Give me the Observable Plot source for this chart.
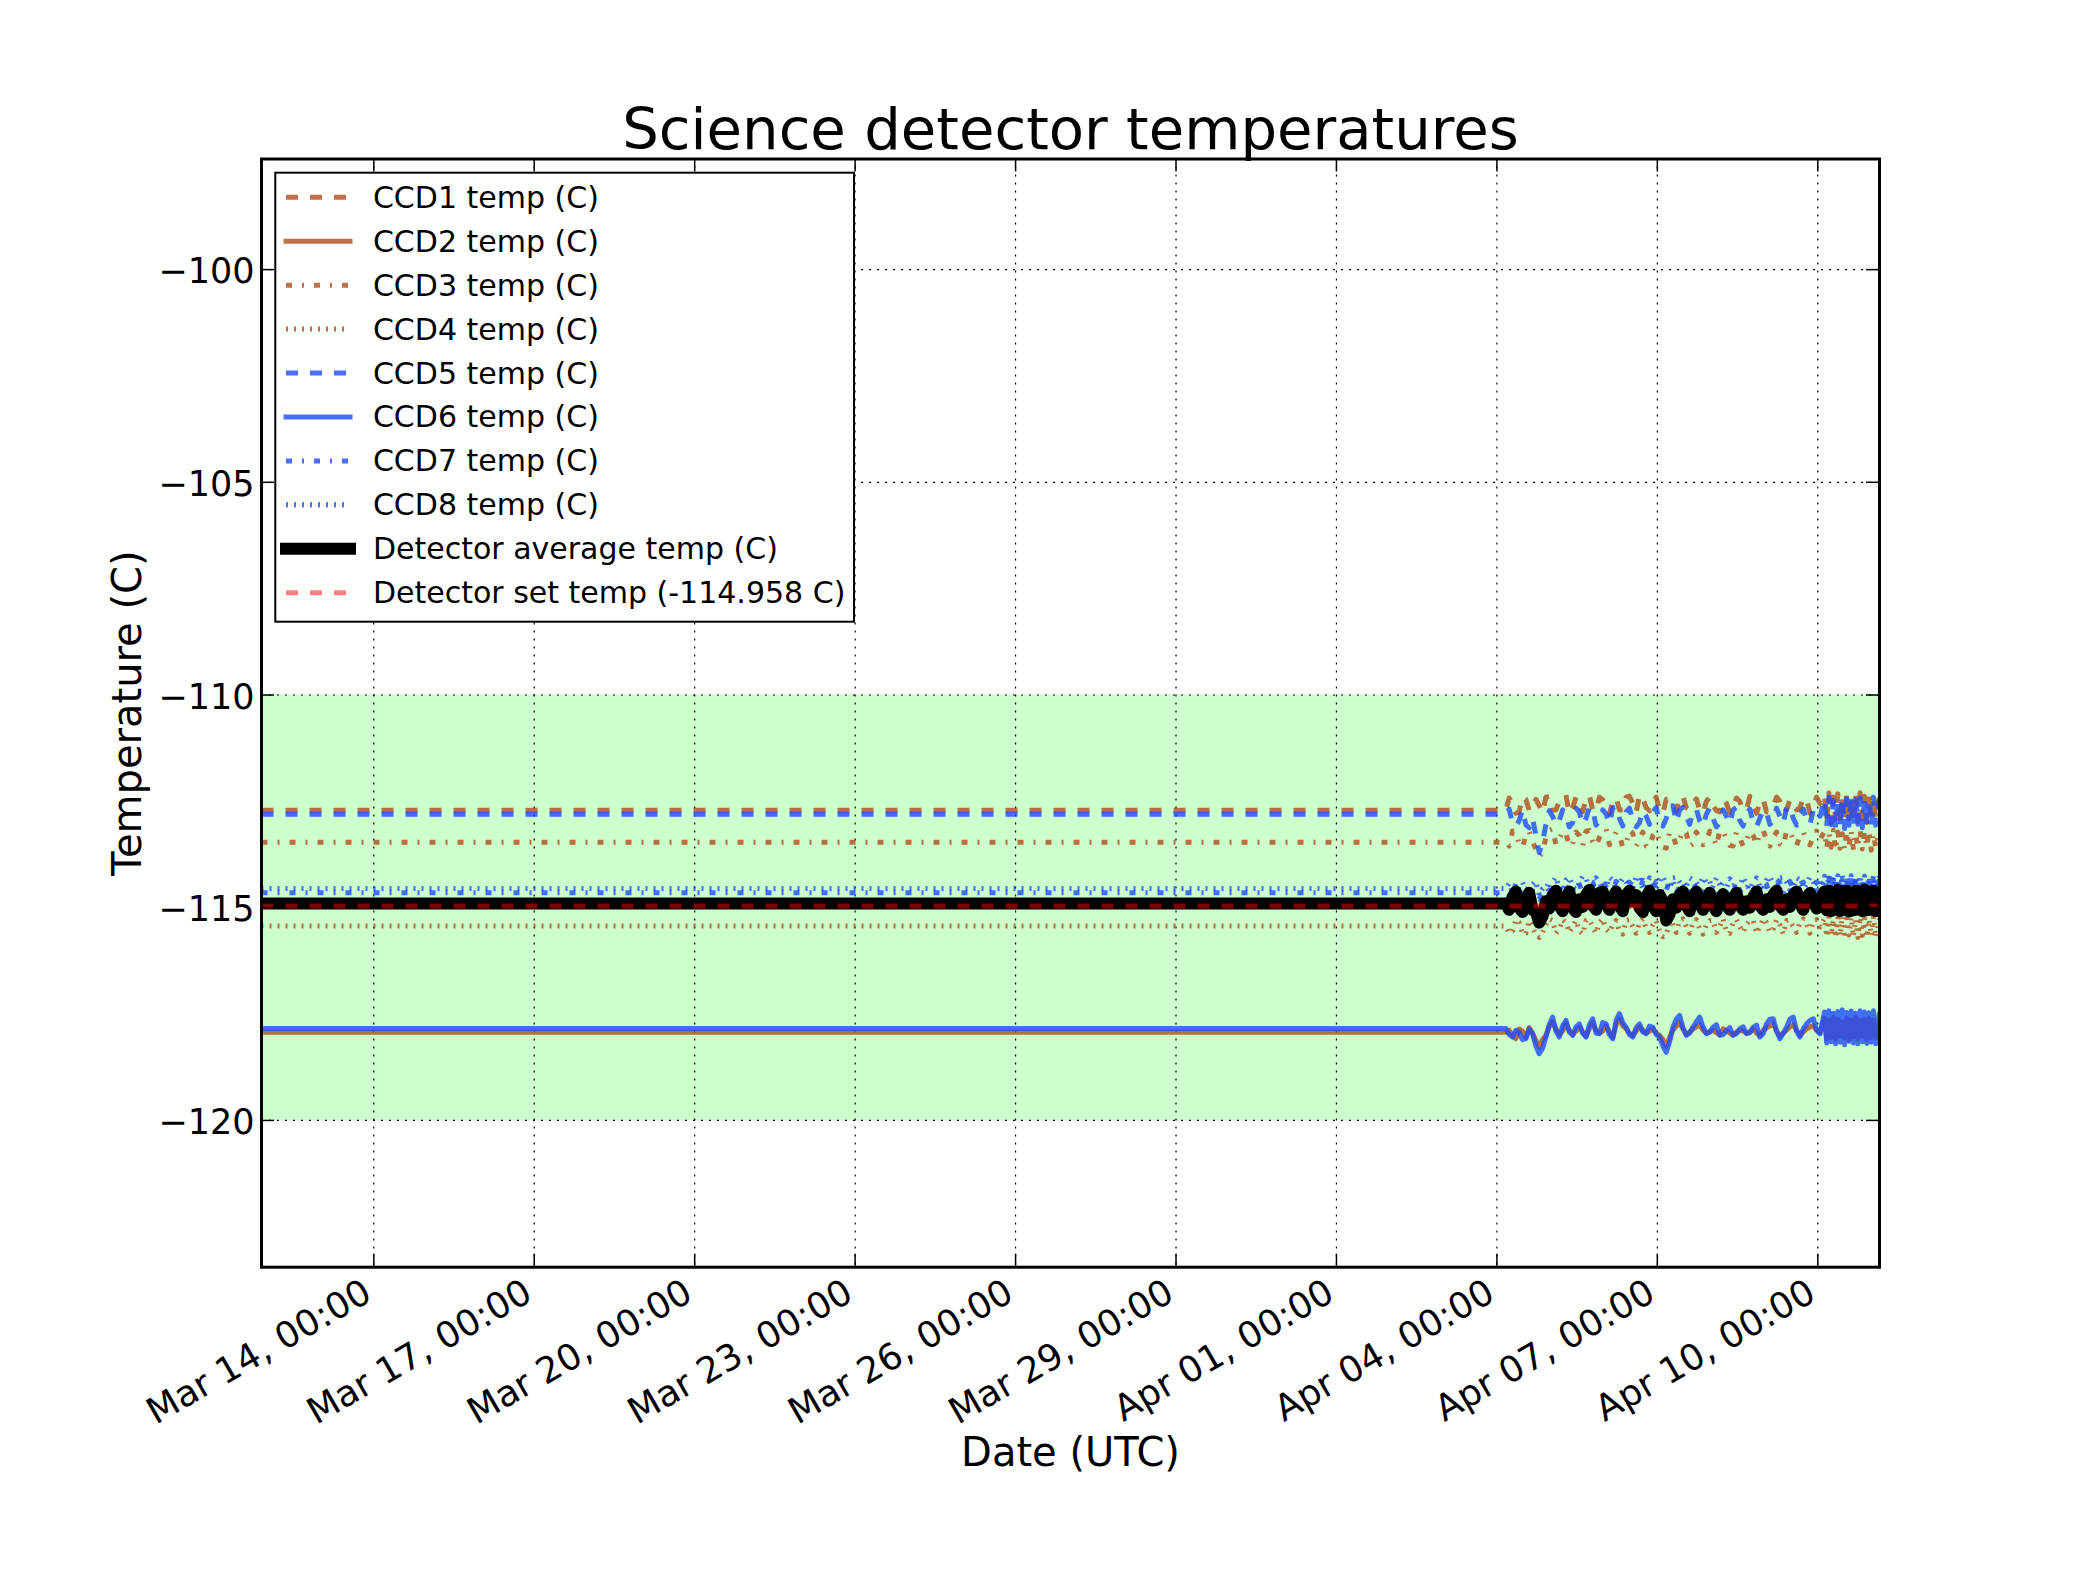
<!DOCTYPE html>
<html>
<head>
<meta charset="utf-8">
<script src="https://cdn.jsdelivr.net/npm/d3@7"></script>
<script src="https://cdn.jsdelivr.net/npm/@observablehq/plot@0.6"></script>
<style>
  html, body { margin: 0; padding: 0; background: #ffffff; }
  #chart { width: 2088px; height: 1584px; }
</style>
</head>
<body>
<div id="chart"></div>
<script>
// ---------------- DATA ----------------
const titleText = "Science detector temperatures";
const xLabel = "Date (UTC)";
const yLabel = "Temperature (C)";

const xStart = "2016-03-11T21:36:00Z";
const xEnd = "2016-04-11T03:42:00Z";
const hoursEpoch = "2016-04-04T00:00:00Z";
const yDomain = [-123.45, -97.4];

const xTickDates = ["2016-03-14", "2016-03-17", "2016-03-20", "2016-03-23", "2016-03-26",
  "2016-03-29", "2016-04-01", "2016-04-04", "2016-04-07", "2016-04-10"];
const xTickLabels = ["Mar 14, 00:00", "Mar 17, 00:00", "Mar 20, 00:00", "Mar 23, 00:00", "Mar 26, 00:00",
  "Mar 29, 00:00", "Apr 01, 00:00", "Apr 04, 00:00", "Apr 07, 00:00", "Apr 10, 00:00"];
const yTicks = [-100, -105, -110, -115, -120];

const okBand = [-120, -110];
const setTemp = -114.958;

// sample times (hours relative to Apr 04 00:00 UTC), first set
const hours = [-554.4,
  4, 7, 10, 13, 16, 19, 22, 25, 28, 31, 34, 37,
  40, 43, 46, 49, 52, 55, 58, 61, 64, 67, 70, 73,
  76, 79, 82, 85, 88, 91, 94, 97, 100, 103, 106, 109,
  112, 115, 118, 121, 124, 127, 130, 133, 136, 139, 142, 145,
  147, 149, 151, 153, 155, 157, 159, 161, 163, 165, 167, 169, 171.7];
// second set of sample times, in between the first
const hours2 = [
  5.5, 8.5, 11.5, 14.5, 17.5, 20.5, 23.5, 26.5, 29.5, 32.5, 35.5, 38.5,
  41.5, 44.5, 47.5, 50.5, 53.5, 56.5, 59.5, 62.5, 65.5, 68.5, 71.5, 74.5,
  77.5, 80.5, 83.5, 86.5, 89.5, 92.5, 95.5, 98.5, 101.5, 104.5, 107.5, 110.5,
  113.5, 116.5, 119.5, 122.5, 125.5, 128.5, 131.5, 134.5, 137.5, 140.5, 143.5,
  148, 150, 152, 154, 156, 158, 160, 162, 164, 166, 168, 170];

const ccd1 = [-112.71,
  -112.71, -112.55, -112.75, -112.45, -112.65, -112.60, -112.40, -112.70, -112.50, -112.35, -112.65, -112.55,
  -112.45, -112.70, -112.40, -112.60, -112.50, -112.70, -112.40, -112.55, -112.35, -112.65, -112.50, -112.70,
  -112.45, -112.60, -112.40, -112.65, -112.55, -112.70, -112.50, -112.60, -112.75, -112.55, -112.65, -112.50,
  -112.70, -112.60, -112.55, -112.75, -112.60, -112.50, -112.70, -112.55, -112.65, -112.45, -112.60, -112.55,
  -112.35, -112.30, -112.40, -112.32, -112.38, -112.30, -112.42, -112.34, -112.30, -112.38, -112.33, -112.40, -112.36];
const ccd1b = [
  -112.42, -112.78, -112.40, -112.72, -112.45, -112.76, -112.38, -112.70, -112.44, -112.78, -112.40, -112.74,
  -112.36, -112.72, -112.46, -112.80, -112.42, -112.70, -112.38, -112.76, -112.44, -112.72, -112.40, -112.78,
  -112.46, -112.74, -112.38, -112.70, -112.44, -112.78, -112.40, -112.72, -112.46, -112.76, -112.42, -112.70,
  -112.38, -112.78, -112.44, -112.72, -112.40, -112.76, -112.46, -112.70, -112.42, -112.78, -112.40,
  -112.95, -113.00, -112.92, -112.98, -112.90, -113.02, -112.94, -112.98, -112.90, -113.00, -112.95, -112.92];

const ccd2 = [-117.93,
  -117.93, -118.00, -117.85, -118.05, -117.95, -118.28, -118.00, -117.68, -117.98, -117.72, -117.98, -117.80,
  -118.02, -117.70, -117.95, -117.78, -118.05, -117.62, -117.85, -118.00, -117.80, -117.95, -117.85, -118.00,
  -118.25, -117.88, -117.70, -117.98, -117.85, -117.75, -117.95, -117.88, -117.98, -117.90, -117.98, -117.88,
  -117.95, -117.85, -118.00, -117.82, -117.72, -118.02, -117.88, -117.75, -118.00, -117.85, -117.78, -117.95,
  -117.60, -117.65, -117.58, -117.62, -117.68, -117.60, -117.64, -117.58, -117.66, -117.62, -117.60, -117.65, -117.62];
const ccd2b = [
  -117.88, -118.08, -117.90, -117.82, -118.12, -118.10, -117.80, -117.85, -117.90, -117.88, -117.90, -117.92,
  -117.85, -117.88, -117.90, -117.92, -117.75, -117.78, -117.95, -117.90, -117.88, -117.90, -117.95, -118.10,
  -118.05, -117.78, -117.85, -117.92, -117.80, -117.88, -117.92, -117.94, -117.85, -117.95, -117.92, -117.90,
  -117.92, -117.95, -117.88, -117.78, -117.90, -117.95, -117.80, -117.88, -117.92, -117.80, -117.88,
  -118.08, -118.05, -118.10, -118.02, -118.06, -118.10, -118.04, -118.08, -118.02, -118.10, -118.05, -118.06];

const ccd3 = [-113.46,
  -113.46, -113.20, -113.50, -113.30, -113.45, -113.80, -113.35, -113.15, -113.40, -113.25, -113.50, -113.30,
  -113.20, -113.45, -113.35, -113.15, -113.40, -113.30, -113.50, -113.25, -113.40, -113.55, -113.30, -113.45,
  -113.60, -113.30, -113.40, -113.25, -113.50, -113.35, -113.45, -113.30, -113.20, -113.40, -113.55, -113.35,
  -113.45, -113.30, -113.25, -113.40, -113.35, -113.50, -113.20, -113.40, -113.30, -113.45, -113.35, -113.40,
  -113.20, -113.24, -113.18, -113.22, -113.26, -113.20, -113.18, -113.24, -113.20, -113.22, -113.18, -113.25, -113.20];
const ccd3b = [
  -113.55, -113.22, -113.58, -113.20, -113.62, -113.70, -113.18, -113.52, -113.20, -113.56, -113.22, -113.54,
  -113.18, -113.55, -113.20, -113.52, -113.22, -113.58, -113.18, -113.55, -113.22, -113.56, -113.20, -113.58,
  -113.22, -113.54, -113.18, -113.56, -113.22, -113.52, -113.20, -113.55, -113.18, -113.54, -113.22, -113.56,
  -113.20, -113.52, -113.18, -113.55, -113.22, -113.56, -113.20, -113.54, -113.22, -113.52, -113.20,
  -113.62, -113.58, -113.65, -113.60, -113.63, -113.57, -113.64, -113.60, -113.62, -113.58, -113.65, -113.60];

const ccd4 = [-115.43,
  -115.43, -115.55, -115.35, -115.60, -115.45, -115.70, -115.40, -115.30, -115.50, -115.35, -115.45, -115.55,
  -115.30, -115.45, -115.35, -115.50, -115.40, -115.55, -115.30, -115.45, -115.35, -115.50, -115.40, -115.55,
  -115.65, -115.40, -115.30, -115.45, -115.35, -115.50, -115.40, -115.30, -115.45, -115.55, -115.35, -115.45,
  -115.40, -115.30, -115.45, -115.35, -115.50, -115.40, -115.30, -115.45, -115.35, -115.40, -115.30, -115.45,
  -115.25, -115.22, -115.28, -115.24, -115.20, -115.26, -115.23, -115.28, -115.22, -115.25, -115.27, -115.22, -115.26];
const ccd4b = [
  -115.60, -115.28, -115.62, -115.30, -115.65, -115.58, -115.26, -115.60, -115.28, -115.58, -115.30, -115.62,
  -115.28, -115.60, -115.26, -115.58, -115.30, -115.62, -115.28, -115.60, -115.26, -115.58, -115.30, -115.68,
  -115.30, -115.58, -115.26, -115.60, -115.28, -115.62, -115.30, -115.58, -115.26, -115.60, -115.28, -115.58,
  -115.30, -115.60, -115.26, -115.58, -115.28, -115.62, -115.30, -115.58, -115.26, -115.60, -115.28,
  -115.68, -115.65, -115.70, -115.66, -115.72, -115.64, -115.68, -115.70, -115.65, -115.69, -115.66, -115.70];

const ccd5 = [-112.80,
  -112.80, -113.00, -112.95, -113.05, -112.90, -113.70, -113.05, -112.85, -112.95, -112.80, -113.00, -112.75,
  -112.90, -112.70, -112.95, -112.80, -112.65, -112.90, -112.75, -112.95, -113.00, -112.85, -112.75, -113.00,
  -112.90, -112.60, -112.70, -112.85, -112.75, -112.95, -112.80, -112.90, -113.00, -112.85, -112.70, -112.95,
  -112.80, -113.00, -112.90, -112.75, -112.95, -112.85, -112.65, -112.90, -112.80, -112.95, -112.70, -112.85,
  -112.45, -112.40, -112.48, -112.42, -112.50, -112.44, -112.40, -112.46, -112.42, -112.48, -112.44, -112.40, -112.46];
const ccd5b = [
  -112.68, -113.08, -112.70, -113.12, -113.30, -113.45, -112.72, -113.05, -112.70, -113.10, -112.66, -113.04,
  -112.64, -113.06, -112.70, -113.02, -112.62, -113.08, -112.66, -113.10, -112.72, -113.04, -112.64, -113.08,
  -112.60, -112.98, -112.64, -113.04, -112.68, -113.08, -112.66, -113.10, -112.70, -113.02, -112.64, -113.08,
  -112.68, -113.10, -112.70, -113.04, -112.66, -113.02, -112.62, -113.06, -112.68, -113.04, -112.66,
  -113.10, -113.05, -113.12, -113.08, -113.14, -113.06, -113.10, -113.04, -113.12, -113.08, -113.10, -113.06];

const ccd6 = [-117.84,
  -117.84, -118.04, -117.93, -118.08, -117.96, -118.43, -118.04, -117.57, -118.04, -117.65, -118.00, -117.73,
  -118.04, -117.61, -117.96, -117.73, -118.08, -117.49, -117.81, -118.04, -117.73, -117.96, -117.81, -118.04,
  -118.40, -117.81, -117.53, -118.00, -117.81, -117.57, -117.96, -117.81, -118.00, -117.89, -118.00, -117.85,
  -117.96, -117.81, -118.04, -117.73, -117.61, -118.08, -117.81, -117.57, -118.04, -117.73, -117.61, -117.96,
  -117.45, -117.42, -117.48, -117.44, -117.40, -117.46, -117.43, -117.48, -117.42, -117.45, -117.47, -117.42, -117.46];
const ccd6b = [
  -117.98, -117.88, -118.10, -117.85, -118.25, -118.30, -117.75, -117.90, -117.78, -117.92, -117.80, -117.95,
  -117.75, -117.95, -117.70, -117.98, -117.65, -117.70, -117.98, -117.82, -117.92, -117.78, -117.98, -118.25,
  -118.15, -117.62, -117.82, -117.95, -117.68, -117.80, -117.92, -117.75, -117.98, -117.82, -117.96, -117.80,
  -117.94, -117.76, -117.96, -117.62, -117.90, -117.95, -117.62, -117.90, -117.85, -117.65, -117.88,
  -118.18, -118.15, -118.20, -118.16, -118.22, -118.14, -118.18, -118.20, -118.15, -118.19, -118.16, -118.20];

const ccd7 = [-114.65,
  -114.65, -114.75, -114.55, -114.70, -114.60, -114.80, -114.55, -114.45, -114.65, -114.50, -114.60, -114.45,
  -114.55, -114.40, -114.60, -114.50, -114.65, -114.45, -114.55, -114.50, -114.60, -114.40, -114.55, -114.45,
  -114.60, -114.35, -114.50, -114.60, -114.45, -114.55, -114.50, -114.60, -114.55, -114.65, -114.50, -114.60,
  -114.55, -114.50, -114.60, -114.45, -114.55, -114.40, -114.50, -114.60, -114.45, -114.55, -114.50, -114.55,
  -114.32, -114.30, -114.35, -114.31, -114.34, -114.30, -114.36, -114.32, -114.30, -114.34, -114.31, -114.35, -114.32];
const ccd7b = [
  -114.72, -114.42, -114.74, -114.44, -114.78, -114.62, -114.38, -114.68, -114.40, -114.70, -114.38, -114.66,
  -114.36, -114.68, -114.40, -114.72, -114.38, -114.66, -114.40, -114.70, -114.36, -114.66, -114.38, -114.70,
  -114.34, -114.66, -114.38, -114.70, -114.40, -114.68, -114.38, -114.72, -114.40, -114.70, -114.38, -114.68,
  -114.40, -114.70, -114.36, -114.68, -114.34, -114.66, -114.38, -114.70, -114.40, -114.68, -114.40,
  -114.72, -114.70, -114.75, -114.71, -114.74, -114.69, -114.73, -114.70, -114.75, -114.71, -114.72, -114.70];

const ccd8 = [-114.55,
  -114.55, -114.65, -114.50, -114.60, -114.45, -114.70, -114.50, -114.40, -114.55, -114.35, -114.50, -114.40,
  -114.30, -114.50, -114.40, -114.55, -114.35, -114.45, -114.40, -114.55, -114.30, -114.45, -114.50, -114.35,
  -114.45, -114.30, -114.40, -114.50, -114.35, -114.45, -114.40, -114.50, -114.45, -114.55, -114.40, -114.50,
  -114.45, -114.40, -114.50, -114.35, -114.45, -114.30, -114.40, -114.50, -114.35, -114.45, -114.40, -114.45,
  -114.26, -114.24, -114.28, -114.25, -114.23, -114.27, -114.25, -114.28, -114.24, -114.26, -114.27, -114.24, -114.26];
const ccd8b = [
  -114.42, -114.70, -114.40, -114.68, -114.38, -114.55, -114.62, -114.28, -114.62, -114.28, -114.58, -114.26,
  -114.58, -114.30, -114.60, -114.28, -114.58, -114.30, -114.62, -114.26, -114.58, -114.30, -114.56, -114.26,
  -114.56, -114.28, -114.58, -114.30, -114.58, -114.28, -114.60, -114.30, -114.62, -114.32, -114.60, -114.28,
  -114.58, -114.30, -114.56, -114.26, -114.56, -114.28, -114.58, -114.30, -114.56, -114.28, -114.58,
  -114.60, -114.58, -114.62, -114.59, -114.61, -114.57, -114.60, -114.62, -114.58, -114.60, -114.59, -114.61];

const detAvg = [-114.90,
  -114.90, -114.75, -115.00, -114.80, -115.05, -115.35, -114.85, -114.70, -114.95, -114.75, -115.00, -114.80,
  -114.70, -114.95, -114.65, -114.90, -114.75, -114.95, -114.70, -114.85, -115.00, -114.75, -114.95, -114.70,
  -115.30, -114.80, -114.70, -114.95, -114.75, -114.90, -114.80, -114.95, -114.85, -114.95, -114.80, -114.95,
  -114.85, -114.75, -114.95, -114.80, -114.70, -114.95, -114.80, -114.70, -114.90, -114.75, -114.85, -114.80,
  -114.62, -114.60, -114.64, -114.58, -114.62, -114.60, -114.65, -114.60, -114.62, -114.58, -114.63, -114.60, -114.64];
const detAvgb = [
  -115.05, -114.62, -115.10, -114.65, -115.10, -115.20, -115.02, -114.60, -115.08, -114.62, -115.10, -114.98,
  -114.58, -115.05, -114.62, -115.05, -114.62, -115.08, -114.60, -114.70, -115.10, -114.60, -115.08, -114.85,
  -115.15, -115.00, -114.62, -115.08, -114.62, -115.05, -114.65, -115.08, -114.68, -115.05, -114.65, -115.05,
  -115.00, -114.62, -115.05, -114.98, -114.60, -115.05, -114.98, -114.62, -115.05, -114.65, -115.02,
  -115.06, -115.08, -115.04, -115.08, -115.05, -115.09, -115.06, -115.04, -115.08, -115.06, -115.05, -115.08];

const seriesNames = ["CCD1 temp (C)", "CCD2 temp (C)", "CCD3 temp (C)", "CCD4 temp (C)",
  "CCD5 temp (C)", "CCD6 temp (C)", "CCD7 temp (C)", "CCD8 temp (C)",
  "Detector average temp (C)", "Detector set temp (-114.958 C)"];
const seriesValues = [ccd1, ccd2, ccd3, ccd4, ccd5, ccd6, ccd7, ccd8, detAvg];
const seriesValues2 = [ccd1b, ccd2b, ccd3b, ccd4b, ccd5b, ccd6b, ccd7b, ccd8b, detAvgb];

// ---------------- STYLES ----------------
const ORANGE = "#b04c1a", BLUE = "#1d4aff";
const DASH = "12,12", DASHDOT = "6,10,2,10", DOT = "2,6";
const LW = 5;
const seriesStyles = [
  {stroke: ORANGE, dash: DASH, width: LW, opacity: 0.8},
  {stroke: ORANGE, dash: null, width: LW, opacity: 0.8},
  {stroke: ORANGE, dash: DASHDOT, width: LW, opacity: 0.8},
  {stroke: ORANGE, dash: DOT, width: LW, opacity: 0.8},
  {stroke: BLUE, dash: DASH, width: LW, opacity: 0.8},
  {stroke: BLUE, dash: null, width: LW, opacity: 0.8},
  {stroke: BLUE, dash: DASHDOT, width: LW, opacity: 0.8},
  {stroke: BLUE, dash: DOT, width: LW, opacity: 0.8},
  {stroke: "#000000", dash: null, width: 12, opacity: 1},
  {stroke: "#ff0000", dash: DASH, width: LW, opacity: 0.5}
];

// ---------------- BUILD ----------------
const epoch = new Date(hoursEpoch).getTime();
const table = [];
seriesValues.forEach((vals, s) => {
  hours.forEach((h, i) => table.push({series: s, h, temp: vals[i]}));
  hours2.forEach((h, i) => table.push({series: s, h, temp: seriesValues2[s][i]}));
});
table.sort((a, b) => a.series - b.series || a.h - b.h);
table.forEach(d => { d.time = new Date(epoch + d.h * 3600e3); });
const setTable = [
  {series: 9, time: new Date(xStart), temp: setTemp},
  {series: 9, time: new Date(xEnd), temp: setTemp}
];

const W = 2088, H = 1584;
const mL = 261, mR = 209, mT = 158.5, mB = 317.3;
const plotW = W - mL - mR, plotH = H - mT - mB;
const FONT = "DejaVu Sans";

const lineMarks = seriesStyles.map((st, s) => {
  const rows = s === 9 ? setTable : table.filter(d => d.series === s);
  return Plot.line(rows, {
    x: "time", y: "temp", clip: true,
    stroke: st.stroke, strokeWidth: st.width, strokeOpacity: st.opacity,
    strokeDasharray: st.dash == null ? undefined : st.dash,
    strokeLinejoin: "round", strokeLinecap: "butt"
  });
});

const xTicks = xTickDates.map(d => new Date(d + "T00:00:00Z"));
const fmtY = d3.format("d");

const chart = Plot.plot({
  width: W, height: H,
  marginLeft: mL, marginRight: mR, marginTop: mT, marginBottom: mB,
  x: {type: "utc", domain: [new Date(xStart), new Date(xEnd)], axis: null},
  y: {domain: yDomain, axis: null},
  style: {fontFamily: FONT, background: "#ffffff", color: "#000000", overflow: "visible"},
  marks: [
    Plot.rect([okBand], {x1: () => new Date(xStart), x2: () => new Date(xEnd), y1: d => d[0], y2: d => d[1], fill: "#ccffcc"}),
    Plot.ruleY(yTicks, {y: d => d, stroke: "#000000", strokeWidth: 1.2, strokeDasharray: "2,6"}),
    Plot.ruleX(xTicks, {x: d => d, stroke: "#000000", strokeWidth: 1.2, strokeDasharray: "2,6"}),
    ...lineMarks,
    // inward tick marks on all four sides
    Plot.tickY(yTicks, {y: d => d, stroke: "#000000", strokeWidth: 1.5, insetRight: plotW - 13}),
    Plot.tickY(yTicks, {y: d => d, stroke: "#000000", strokeWidth: 1.5, insetLeft: plotW - 13}),
    Plot.tickX(xTicks, {x: d => d, stroke: "#000000", strokeWidth: 1.5, insetBottom: plotH - 13}),
    Plot.tickX(xTicks, {x: d => d, stroke: "#000000", strokeWidth: 1.5, insetTop: plotH - 13}),
    // tick labels
    Plot.text(yTicks, {y: d => d, text: d => fmtY(d), frameAnchor: "left", dx: -7, dy: 2.5,
      textAnchor: "end", lineAnchor: "middle", fontSize: 35, fill: "#000000"}),
    Plot.text(xTicks, {x: d => d, text: (d, i) => xTickLabels[i], frameAnchor: "bottom", dx: 0, dy: 32,
      rotate: -30, textAnchor: "end", lineAnchor: "bottom", fontSize: 36, fill: "#000000"}),
    // axis labels and title
    Plot.text([xLabel], {text: d => d, frameAnchor: "bottom", dy: 198.3, lineAnchor: "bottom", fontSize: 40, fill: "#000000"}),
    Plot.text([yLabel], {text: d => d, frameAnchor: "left", dx: -120.3, rotate: -90, lineAnchor: "bottom", textAnchor: "middle", fontSize: 40, fill: "#000000"}),
    Plot.text([titleText], {text: d => d, frameAnchor: "top", dy: -10, lineAnchor: "bottom", fontSize: 57.7, fill: "#000000"}),
    Plot.frame({stroke: "#000000", strokeWidth: 3})
  ]
});

// ---------------- LEGEND ----------------
const lg = d3.select(chart).append("g").attr("font-family", FONT).attr("text-anchor", "start");
lg.append("rect").attr("x", 275.3).attr("y", 172.7).attr("width", 578.7).attr("height", 449)
  .attr("fill", "#ffffff").attr("stroke", "#000000").attr("stroke-width", 2);
seriesNames.forEach((name, i) => {
  const st = seriesStyles[i];
  const y = 197.3 + 43.93 * i;
  const ext = st.dash == null ? st.width / 2 : 0;
  lg.append("line").attr("x1", 286 - ext).attr("x2", 350 + ext).attr("y1", y).attr("y2", y)
    .attr("stroke", st.stroke).attr("stroke-width", st.width).attr("stroke-opacity", st.opacity)
    .attr("stroke-dasharray", st.dash).attr("stroke-linecap", "butt");
  lg.append("text").attr("x", 372.9).attr("y", y + 10.5).attr("font-size", 30)
    .attr("text-anchor", "start").attr("fill", "#000000").text(name);
});

document.getElementById("chart").appendChild(chart);
</script>
</body>
</html>
